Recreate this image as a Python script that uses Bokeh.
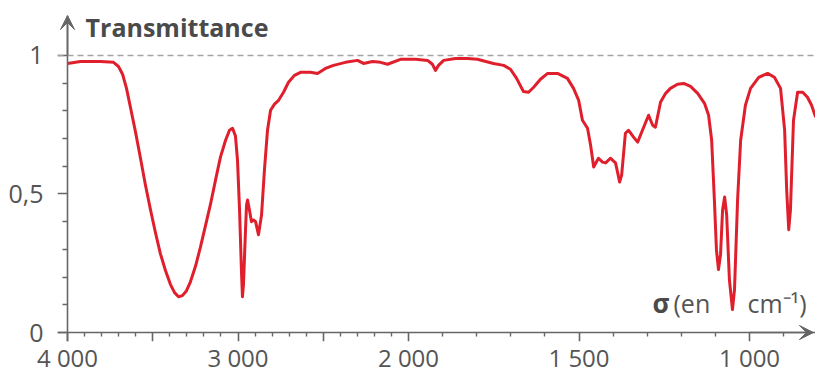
import numpy as np
from bokeh.plotting import figure
from bokeh.models import (Range1d, FixedTicker, Span, Arrow, VeeHead, Label,
                          ColumnDataSource, LinearAxis)
from bokeh.embed import file_html
from bokeh.resources import INLINE

# ---- data (wavenumber in cm-1, transmittance) ----
sigma = [4000, 3924, 3806, 3730, 3701, 3677, 3654, 3631, 3601, 3572, 3543, 3513,
         3484, 3455, 3425, 3396, 3372, 3349, 3326, 3302, 3279, 3249, 3220, 3191,
         3161, 3132, 3103, 3073, 3050, 3032, 3015, 3003, 2991, 2980, 2974, 2968,
         2956, 2950, 2944, 2933, 2921, 2909, 2897, 2880, 2862, 2845, 2827, 2809,
         2786, 2762, 2733, 2704, 2669, 2633, 2575, 2534, 2487, 2440, 2370, 2299,
         2264, 2211, 2164, 2123, 2047, 1979, 1944, 1930, 1921, 1912, 1897, 1862,
         1827, 1798, 1751, 1721, 1701, 1683, 1663, 1648, 1633, 1613, 1592, 1563,
         1534, 1516, 1501, 1490, 1475, 1466, 1457, 1443, 1431, 1422, 1408, 1393,
         1387, 1381, 1375, 1364, 1355, 1340, 1328, 1314, 1296, 1284, 1276, 1261,
         1246, 1232, 1211, 1193, 1173, 1152, 1132, 1120, 1111, 1103, 1097, 1091,
         1085, 1079, 1073, 1067, 1059, 1050, 1044, 1035, 1026, 1012, 997, 973,
         947, 927, 909, 897, 891, 885, 880, 871, 859, 844, 830, 818, 806]
transmittance = [0.971, 0.978, 0.978, 0.975, 0.960, 0.932, 0.881, 0.813, 0.723, 0.629,
                 0.532, 0.442, 0.360, 0.284, 0.223, 0.173, 0.144, 0.129, 0.133, 0.151,
                 0.183, 0.240, 0.309, 0.385, 0.464, 0.550, 0.633, 0.694, 0.730, 0.737,
                 0.709, 0.622, 0.442, 0.227, 0.129, 0.173, 0.370, 0.460, 0.478, 0.442,
                 0.400, 0.406, 0.400, 0.353, 0.424, 0.586, 0.730, 0.802, 0.824, 0.838,
                 0.867, 0.903, 0.928, 0.939, 0.939, 0.935, 0.953, 0.964, 0.975, 0.982,
                 0.971, 0.978, 0.975, 0.968, 0.986, 0.986, 0.982, 0.968, 0.946, 0.964,
                 0.982, 0.989, 0.989, 0.986, 0.971, 0.964, 0.950, 0.917, 0.870, 0.867,
                 0.885, 0.914, 0.935, 0.935, 0.917, 0.881, 0.838, 0.766, 0.737, 0.676,
                 0.597, 0.629, 0.615, 0.612, 0.629, 0.612, 0.579, 0.543, 0.568, 0.719,
                 0.730, 0.705, 0.687, 0.730, 0.784, 0.748, 0.741, 0.831, 0.863, 0.881,
                 0.896, 0.899, 0.888, 0.863, 0.827, 0.784, 0.694, 0.478, 0.299, 0.227,
                 0.281, 0.442, 0.489, 0.424, 0.191, 0.083, 0.155, 0.478, 0.694, 0.820,
                 0.881, 0.921, 0.935, 0.921, 0.881, 0.730, 0.514, 0.371, 0.442, 0.766,
                 0.867, 0.867, 0.849, 0.820, 0.777]

x_tick_values = [4000, 3500, 3000, 2500, 2000, 1500, 1000]
x_tick_labels = ["4 000", "", "3 000", "", "2 000", "1 500", "1 000"]
x_minor_values = [3900, 3800, 3700, 3600, 3400, 3300, 3200, 3100, 2900, 2800, 2700,
                  2600, 2400, 2300, 2200, 2100, 1900, 1800, 1700, 1600, 1400, 1300,
                  1200, 1100, 900]
y_tick_values = [0, 0.5, 1]
y_tick_labels = ["0", "0,5", "1"]
y_minor_values = [0.1, 0.2, 0.3, 0.4, 0.6, 0.7, 0.8, 0.9]


def to_u(s):
    """Spectrometer abscissa: scale doubles below 2000 cm-1."""
    s = np.asarray(s, dtype=float)
    return np.where(s >= 2000, 4000 - s, 2000 + 2 * (2000 - s))


AXIS = "#666666"
LABEL = "#555555"
RED = "#e01f2d"
X_MIN, X_END = -58.7, 4387
Y_MIN, Y_END = -0.0324, 1.144

p = figure(width=815, height=376, output_backend="svg", toolbar_location=None,
           x_range=Range1d(X_MIN, X_END), y_range=Range1d(Y_MIN, Y_END),
           x_axis_type=None, y_axis_type=None,
           min_border_left=57, min_border_right=0, min_border_top=15,
           min_border_bottom=34)
p.outline_line_color = None
p.background_fill_color = "white"

# reference line at T = 1
p.add_layout(Span(location=1, dimension="width", line_color="#a3a3a3",
                  line_dash="6 4", line_width=1.5))

src = ColumnDataSource(dict(u=to_u(sigma), t=transmittance))
p.line("u", "t", source=src, line_color=RED, line_width=3, line_join="round")

xu = [int(v) for v in to_u(x_tick_values)]
x_minor_u = [float(v) for v in to_u(x_minor_values)]


def style_line_axis(ax, tick_in, minor_in):
    ax.axis_line_color = AXIS
    ax.axis_line_width = 1.6
    ax.major_tick_line_color = AXIS
    ax.major_tick_line_width = 1.6
    ax.minor_tick_line_color = AXIS
    ax.minor_tick_line_width = 1.4
    ax.major_tick_out = 0
    ax.major_tick_in = tick_in
    ax.minor_tick_out = 0
    ax.minor_tick_in = minor_in
    ax.major_label_text_font_size = "0px"
    ax.major_label_standoff = 0


def style_label_axis(ax, standoff, size):
    ax.axis_line_color = None
    ax.major_tick_line_color = None
    ax.minor_tick_line_color = None
    ax.major_tick_in = 0
    ax.major_tick_out = 0
    ax.minor_tick_in = 0
    ax.minor_tick_out = 0
    ax.major_label_text_font = "Open Sans"
    ax.major_label_text_font_size = size
    ax.major_label_text_color = LABEL
    ax.major_label_standoff = standoff


# axis lines and ticks, fixed at T = 0 and sigma = 4000
xaxis = LinearAxis(fixed_location=0,
                   ticker=FixedTicker(ticks=xu, minor_ticks=x_minor_u),
                   major_label_overrides={k: "" for k in xu})
yaxis = LinearAxis(fixed_location=0,
                   ticker=FixedTicker(ticks=y_tick_values, minor_ticks=y_minor_values),
                   major_label_overrides={k: "" for k in y_tick_values})
style_line_axis(xaxis, 9, 4)
style_line_axis(yaxis, 10, 5)
p.add_layout(xaxis, "above")
p.add_layout(yaxis, "right")

# tick labels
xlab = LinearAxis(ticker=FixedTicker(ticks=xu, minor_ticks=[]),
                  major_label_overrides={k: lab for k, lab in zip(xu, x_tick_labels)})
ylab = LinearAxis(ticker=FixedTicker(ticks=y_tick_values, minor_ticks=[]),
                  major_label_overrides={k: lab for k, lab in zip(y_tick_values, y_tick_labels)})
style_label_axis(xlab, -1, "24px")
style_label_axis(ylab, 14, "25px")
p.add_layout(xlab, "below")
p.add_layout(ylab, "left")

# axis arrows
p.add_layout(Arrow(end=VeeHead(size=14, fill_color=AXIS, line_color=AXIS, line_width=1),
                   x_start=0, y_start=1.0, x_end=0, y_end=Y_END,
                   line_color=AXIS, line_width=1.6))
p.add_layout(Arrow(end=VeeHead(size=14, fill_color=AXIS, line_color=AXIS, line_width=1),
                   x_start=4000, y_start=0, x_end=4375, y_end=0,
                   line_color=AXIS, line_width=1.6))

# axis titles
p.add_layout(Label(x=106, y=1.104, text="Transmittance", text_font="Open Sans",
                   text_font_size="25px", text_font_style="bold", text_color="#4a4a4a",
                   text_baseline="alphabetic"))
p.add_layout(Label(x=3431, y=0.108, text="σ", text_font="Open Sans",
                   text_font_size="26px", text_font_style="bold", text_color="#4a4a4a",
                   text_baseline="alphabetic"))
p.add_layout(Label(x=3554, y=0.108, text="(en", text_font="Open Sans",
                   text_font_size="25px", text_color=LABEL, text_baseline="alphabetic"))
p.add_layout(Label(x=3988, y=0.108, text="cm⁻¹)", text_font="Open Sans",
                   text_font_size="25px", text_color=LABEL, text_baseline="alphabetic"))

open("out.html", "w").write(file_html(p, INLINE))
